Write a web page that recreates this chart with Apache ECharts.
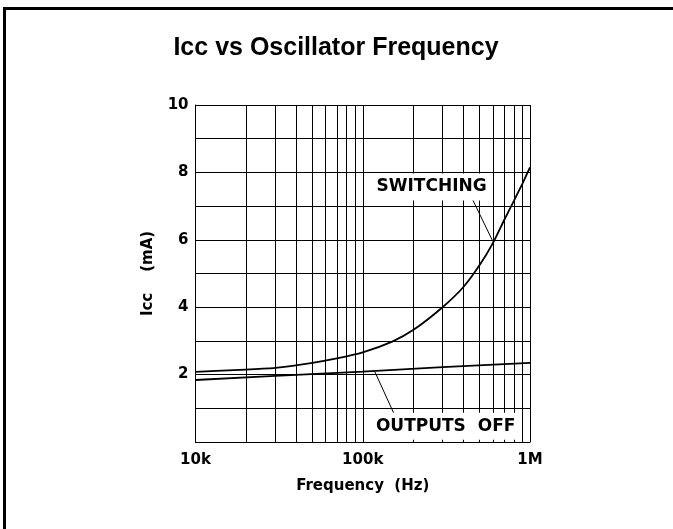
<!DOCTYPE html>
<html>
<head>
<meta charset="utf-8">
<script src="https://cdn.jsdelivr.net/npm/echarts@6/dist/echarts.min.js"></script>
<style>
  html, body { margin: 0; padding: 0; background: #fff; }
  #chart { width: 673px; height: 529px; }
</style>
</head>
<body>
<div id="chart"></div>
<script>
// data
const freqs = [10000, 20000, 30000, 50000, 70000, 100000, 150000, 200000, 300000,
  400000, 500000, 600000, 700000, 800000, 900000, 1000000];
const switching = [2.08, 2.15, 2.2, 2.35, 2.48, 2.66, 2.98, 3.32, 4.0,
  4.6, 5.25, 5.9, 6.58, 7.15, 7.66, 8.15];
const offFreqs = [10000, 30000, 100000, 300000, 1000000];
const outputsOff = [1.84, 1.96, 2.09, 2.22, 2.35];

// log grid lines between the decades
const gridFreqs = [20000, 30000, 40000, 50000, 60000, 70000, 80000, 90000,
  200000, 300000, 400000, 500000, 600000, 700000, 800000, 900000];
const xTickLabels = { 10000: '10k', 100000: '100k', 1000000: '1M' };

const font = 'DejaVu Sans';

const chart = echarts.init(document.getElementById('chart'), null, { renderer: 'canvas' });

const option = {
  animation: false,
  backgroundColor: '#fff',
  title: {
    text: 'Icc vs Oscillator Frequency',
    left: 331,
    textAlign: 'center',
    top: 31,
    textStyle: {
      fontFamily: 'Liberation Sans',
      fontWeight: 'bold',
      fontSize: 25,
      color: '#000',
    },
  },
  graphic: [{
    type: 'polyline',
    shape: { points: [[4.5, 529], [4.5, 8.5], [673, 8.5]] },
    style: { stroke: '#000', lineWidth: 3, fill: null },
  }],
  grid: {
    left: 195.5,
    right: 143,
    top: 105,
    bottom: 87,
  },
  xAxis: {
    type: 'log',
    logBase: 10,
    min: 10000,
    max: 1000000,
    name: 'Frequency  (Hz)',
    nameLocation: 'middle',
    nameGap: 37,
    nameTextStyle: { fontFamily: font, fontWeight: 'bold', fontSize: 15, color: '#000' },
    axisLine: { lineStyle: { color: '#000', width: 1 } },
    axisTick: { show: false },
    splitLine: { show: true, lineStyle: { color: '#000', width: 1 } },
    axisLabel: {
      margin: 11,
      fontFamily: font,
      fontWeight: 'bold',
      fontSize: 15,
      color: '#000',
      formatter: (v) => xTickLabels[Math.round(v)] || '',
    },
  },
  yAxis: {
    type: 'value',
    min: 0,
    max: 10,
    interval: 1,
    name: 'Icc    (mA)',
    nameLocation: 'middle',
    nameGap: 40,
    nameTextStyle: { fontFamily: font, fontWeight: 'bold', fontSize: 15, color: '#000' },
    axisLine: { show: true, lineStyle: { color: '#000', width: 1 } },
    axisTick: { show: false },
    splitLine: { show: true, lineStyle: { color: '#000', width: 1 } },
    axisLabel: {
      margin: 7,
      fontFamily: font,
      fontWeight: 'bold',
      fontSize: 15,
      color: '#000',
      formatter: (v) => (v > 0 && v % 2 === 0 ? String(v) : ''),
    },
  },
  series: [{
    name: 'grid',
    type: 'line',
    data: [],
    z: 1,
    markLine: {
      silent: true,
      z: 1,
      symbol: ['none', 'none'],
      label: { show: false },
      lineStyle: { color: '#000', width: 1, type: 'solid' },
      data: gridFreqs.map((f) => ({ xAxis: f })),
    },
  }, {
    name: 'SWITCHING',
    type: 'line',
    smooth: 0.2,
    showSymbol: false,
    z: 3,
    lineStyle: { color: '#000', width: 1.8 },
    data: freqs.map((f, i) => [f, switching[i]]),
  }, {
    name: 'OUTPUTS OFF',
    type: 'line',
    showSymbol: false,
    z: 3,
    lineStyle: { color: '#000', width: 1.8 },
    data: offFreqs.map((f, i) => [f, outputsOff[i]]),
  }, {
    name: 'notes',
    type: 'line',
    data: [],
    z: 10,
    markLine: {
      silent: true,
      z: 8,
      symbol: ['none', 'none'],
      label: { show: false },
      lineStyle: { color: '#000', width: 1, type: 'solid' },
      data: [
        [{ coord: [450000, 7.23] }, { coord: [600000, 5.95] }],
        [{ coord: [118000, 2.09] }, { coord: [155000, 0.8] }],
      ],
    },
    markPoint: {
      silent: true,
      z: 10,
      symbol: 'rect',
      symbolSize: 0,
      label: {
        show: true,
        position: 'inside',
        fontFamily: font,
        fontWeight: 'bold',
        fontSize: 17,
        color: '#000',
        backgroundColor: '#fff',
        padding: [5, 3],
      },
      data: [
        { coord: [258000, 7.57], label: { formatter: 'SWITCHING' } },
        { coord: [313000, 0.47], label: { formatter: 'OUTPUTS  OFF' } },
      ],
    },
  }],
};

chart.setOption(option);
</script>
</body>
</html>
